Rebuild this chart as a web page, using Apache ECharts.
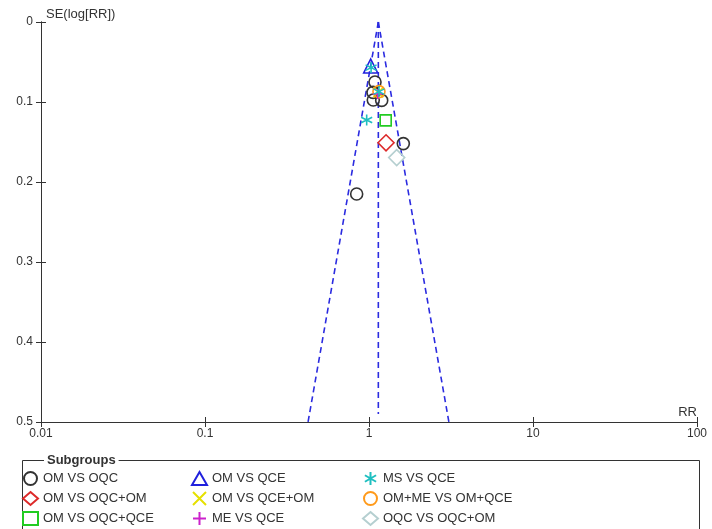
<!DOCTYPE html>
<html>
<head>
<meta charset="utf-8">
<script src="https://cdn.jsdelivr.net/npm/echarts@6/dist/echarts.min.js"></script>
<style>html,body{margin:0;padding:0;background:#fff}#c{width:712px;height:529px}</style>
</head>
<body>
<div id="c"></div>
<script>
// ---- data (RR, SE) ----
var omVsOqc = [[1.088,0.075],[1.058,0.088],[1.062,0.0975],[1.195,0.098],[1.619,0.152],[0.841,0.215]];
var omVsQce = [[1.024,0.055]];
var msVsQce = [[1.03,0.057],[0.968,0.1225],[1.15,0.087]];
var omVsOqcOm = [[1.27,0.151]];
var omVsQceOm = [[1.14,0.088]];
var omMeVsOmQce = [[1.15,0.087]];
var omVsOqcQce = [[1.264,0.123]];
var meVsQce = [[1.13,0.09]];
var oqcVsOqcOm = [[1.475,0.1695]];
// funnel (pooled RR and 95% limits at SE = 0.5)
var pooledRR = 1.14;
var funnelLeft = [[1.14,0],[0.425,0.5]];
var funnelRight = [[1.14,0],[3.07,0.5]];
var funnelCenter = [[1.14,0],[1.14,0.49]];
var xTicks = [0.01,0.1,1,10,100];
var yTicks = ['0','0.1','0.2','0.3','0.4','0.5'];
var names = ['OM VS OQC','OM VS QCE','MS VS QCE','OM VS OQC+OM','OM VS QCE+OM','OM+ME VS OM+QCE','OM VS OQC+QCE','ME VS QCE','OQC VS OQC+OM'];

var FONT = '"Liberation Sans", Arial, sans-serif';
var asterisk = 'path://M5,0 L5,10 M0.7,2.5 L9.3,7.5 M0.7,7.5 L9.3,2.5';
var cross = 'path://M0,0 L10,10 M10,0 L0,10';
var plus = 'path://M5,0 L5,10 M0,5 L10,5';

function sc(name, data, symbol, size, color, z){
  return {type:'scatter', name:name, data:data, symbol:symbol, symbolSize:size, z:z||3,
    itemStyle:{color:'rgba(255,255,255,0)', borderColor:color, borderWidth:1.6, opacity:1},
    emphasis:{disabled:true}};
}
function ln(data, xi){
  return {type:'line', data:data, symbol:'none', silent:true, z:2, xAxisIndex:xi||0, yAxisIndex:xi||0,
    lineStyle:{color:'#2b2be0', width:1.6, type:[6,4]}};
}
var axisLine = {show:true, onZero:false, lineStyle:{color:'#333', width:1}};
var gridBox = {left:41, right:15, top:22, bottom:107};
var opt = {
  animation:false,
  grid:[gridBox, gridBox],
  xAxis:[
    {gridIndex:0, type:'log', logBase:10, min:0.01, max:100, position:'bottom', axisLine:axisLine,
     axisTick:{show:true, length:5, lineStyle:{color:'#333'}},
     axisLabel:{color:'#333', fontSize:12, fontFamily:FONT, margin:6,
       formatter:function(v){var r=Math.round(Math.log10(v)); return String(xTicks[r+2]);}},
     splitLine:{show:false}, minorTick:{show:false}},
    {gridIndex:1, type:'log', logBase:10, min:0.01, max:100, position:'bottom',
     axisLine:axisLine,
     axisTick:{show:true, inside:true, length:5, lineStyle:{color:'#333'}},
     axisLabel:{show:false}, splitLine:{show:false}}
  ],
  yAxis:[
    {gridIndex:0, type:'value', inverse:true, min:0, max:0.5, interval:0.1, position:'left', axisLine:axisLine,
     axisTick:{show:true, length:5, lineStyle:{color:'#333'}},
     axisLabel:{color:'#333', fontSize:12, fontFamily:FONT, margin:8,
       formatter:function(v){return yTicks[Math.round(v*10)];}},
     splitLine:{show:false}},
    {gridIndex:1, type:'value', inverse:true, min:0, max:0.5, interval:0.1, position:'left',
     axisLine:axisLine,
     axisTick:{show:true, inside:true, length:5, lineStyle:{color:'#333'}},
     axisLabel:{show:false}, splitLine:{show:false}}
  ],
  legend:[
    {left:22, top:471, orient:'vertical', itemGap:5, itemWidth:15, itemHeight:13, padding:0,
     textStyle:{fontSize:13, color:'#333', fontFamily:FONT}, selectedMode:false,
     data:['OM VS OQC','OM VS OQC+OM','OM VS OQC+QCE']},
    {left:191, top:471, orient:'vertical', itemGap:5, itemWidth:15, itemHeight:13, padding:0,
     textStyle:{fontSize:13, color:'#333', fontFamily:FONT}, selectedMode:false,
     data:['OM VS QCE','OM VS QCE+OM','ME VS QCE']},
    {left:362, top:471, orient:'vertical', itemGap:5, itemWidth:15, itemHeight:13, padding:0,
     textStyle:{fontSize:13, color:'#333', fontFamily:FONT}, selectedMode:false,
     data:['MS VS QCE','OM+ME VS OM+QCE','OQC VS OQC+OM']}
  ],
  graphic:[
    {type:'rect', shape:{x:22.5, y:460.5, width:677, height:80}, style:{fill:'none', stroke:'#333', lineWidth:1}, silent:true},
    {type:'text', x:44, y:460, style:{text:'Subgroups', font:'bold 13px '+FONT, fill:'#333', verticalAlign:'middle', backgroundColor:'#fff', padding:[0,3]}, silent:true, z:10},
    {type:'text', x:46, y:14, style:{text:'SE(log[RR])', font:'13px '+FONT, fill:'#333', verticalAlign:'middle'}, silent:true},
    {type:'text', x:697, y:412, style:{text:'RR', font:'13px '+FONT, fill:'#333', align:'right', verticalAlign:'middle'}, silent:true}
  ],
  series:[
    ln(funnelLeft), ln(funnelRight), ln(funnelCenter, 1),
    sc(names[0], omVsOqc, 'circle', 12, '#333333', 3),
    sc(names[1], omVsQce, 'triangle', 14, '#2020dd', 4),
    sc(names[2], msVsQce, asterisk, 11, '#1fbfc0', 6),
    sc(names[3], omVsOqcOm, 'diamond', 16, '#dd2a2a', 4),
    sc(names[4], omVsQceOm, cross, 10, '#e6e000', 5),
    sc(names[5], omMeVsOmQce, 'circle', 12, '#ff9a1a', 5),
    sc(names[6], omVsOqcQce, 'rect', 11, '#22cc22', 4),
    sc(names[7], meVsQce, plus, 10, '#cc22cc', 5),
    sc(names[8], oqcVsOqcOm, 'diamond', 16, '#b5cfd0', 4)
  ]
};
echarts.init(document.getElementById('c')).setOption(opt);
</script>
</body>
</html>
